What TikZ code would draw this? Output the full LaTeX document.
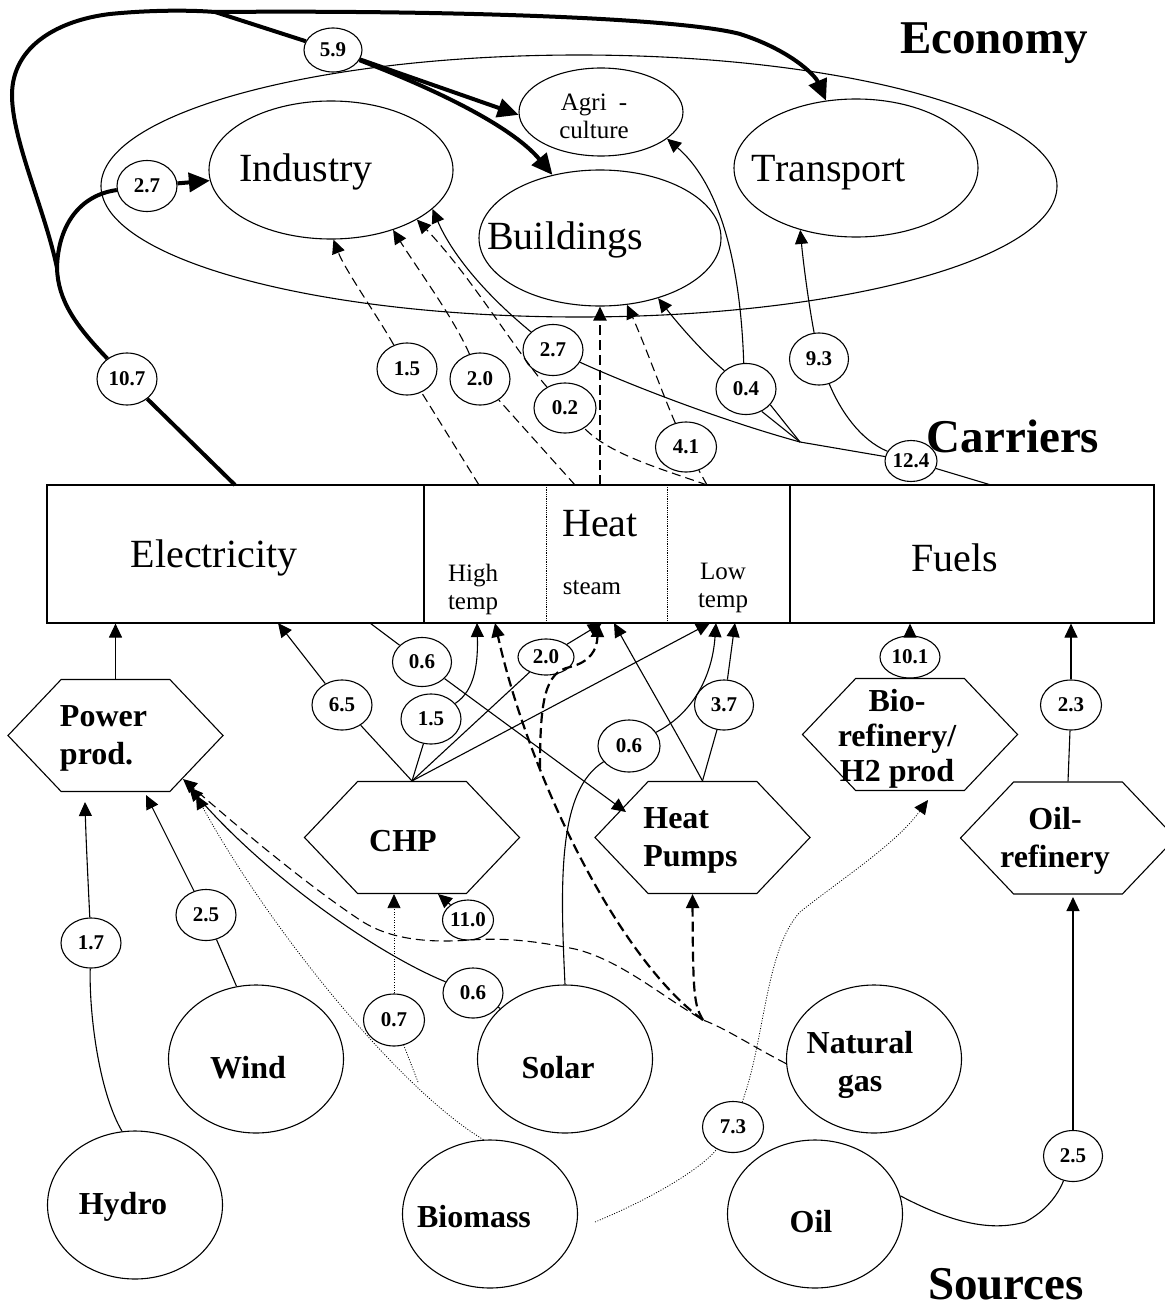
\documentclass[tikz,border=0pt]{standalone}
\usepackage{fontspec}
\setmainfont{Liberation Serif}
\usetikzlibrary{arrows.meta,shapes.geometric,shapes.symbols}
\begin{document}
\begin{tikzpicture}[x=1pt,y=-1pt,
  ln/.style={line width=1.1pt},
  thk/.style={line width=4pt},
  dsh/.style={line width=1.1pt, dash pattern=on 9pt off 5pt},
  tdsh/.style={line width=2.2pt, dash pattern=on 10pt off 5pt},
  dotl/.style={line width=0.8pt, dash pattern=on 1pt off 1.6pt},
  ar/.style={-{Triangle[length=14pt,width=13pt]}},
  tar/.style={-{Triangle[length=21pt,width=19pt]}},
  big/.style={font=\fontsize{40}{46}\selectfont},
  small/.style={font=\fontsize{25}{28}\selectfont, align=center},
  ttl/.style={font=\bfseries\fontsize{47}{52}\selectfont, inner sep=0pt},
  hexlbl/.style={font=\bfseries\fontsize{32}{38}\selectfont},
  ell/.style={ellipse, draw, line width=1.1pt, inner sep=0pt},
  src/.style={ell, minimum width=175pt, minimum height=148pt},
  hexa/.style={signal, signal to=west and east, signal pointer angle=93,
    draw, line width=1.1pt, inner sep=0pt, minimum width=215pt, minimum height=112pt},
  num/.style={ell, font=\bfseries\fontsize{21}{23}\selectfont,
    minimum width=60pt, minimum height=50pt},
  boxc/.style={draw, line width=1.1pt, inner sep=0pt, minimum height=138pt}
]
\useasboundingbox (0,0) rectangle (1164,1311);

% ---------- titles ----------
\node[ttl] (tEco) at (994,43) {Economy};
\node[ttl] (tCar) at (1013,436) {Carriers};
\node[ttl] (tSrc) at (1006,1284) {Sources};

% ---------- economy sectors ----------
\node[ell, minimum width=956pt, minimum height=262pt] (econ) at (579,186) {};
\node[ell, minimum width=244pt, minimum height=138pt,
  label={[big, xshift=-25pt, yshift=-2pt]center:Industry}] (ind) at (331,170) {};
\node[ell, minimum width=244pt, minimum height=138pt,
  label={[big, xshift=-27pt, yshift=-5pt]center:Transport}] (trans) at (856,168) {};
\node[ell, minimum width=242pt, minimum height=136pt,
  label={[big, xshift=-35pt, yshift=-2pt]center:Buildings}] (bld) at (600,238) {};
\node[ell, minimum width=164pt, minimum height=88pt,
  label={[small, xshift=-7pt, yshift=-4pt]center:Agri\hspace{12pt}-\\culture}] (agri) at (601,112) {};

% ---------- carriers ----------
\node[boxc, minimum width=377pt] (elec) at (235.5,554) {};
\node[boxc, minimum width=366pt] (heat) at (607,554) {};
\node[boxc, minimum width=364pt] (fuels) at (972,554) {};
\draw[line width=0.8pt, densely dotted] (546,485) -- (546,623);
\draw[line width=0.8pt, densely dotted] (667,485) -- (667,623);
\node[big] (tElec) at (214,558) {Electricity};
\node[big] (tHeat) at (600,524) {Heat};
\node[big] (tFuel) at (955,558) {Fuels};
\node[small] (tHigh) at (473,589) {High\\temp};
\node[small] (tSteam) at (592,588) {steam};
\node[small] (tLow) at (723,588) {Low\\temp};

% ---------- conversion ----------
\node[hexa, label={[hexlbl, align=left, xshift=-12pt, yshift=-3pt]center:Power\\prod.}] (pp) at (115.5,735.5) {};
\node[hexa, label={[hexlbl, xshift=-9pt, yshift=-4pt]center:CHP}] (chp) at (412,837.5) {};
\node[hexa, label={[hexlbl, align=left, xshift=-12pt, yshift=-3pt]center:Heat\\Pumps}] (hp) at (702.5,837.5) {};
\node[hexa, label={[hexlbl, align=center, xshift=-13pt, yshift=-4pt, font=\bfseries\fontsize{32}{35}\selectfont]center:Bio-\\refinery/\\H2 prod}] (bio) at (910,734.5) {};
\node[hexa, label={[hexlbl, align=center, xshift=-13pt, yshift=-3pt]center:Oil-\\refinery}] (oil) at (1068,838) {};

% ---------- sources ----------
\node[src, label={[hexlbl, xshift=-12pt, yshift=-2pt]center:Hydro}] (hydro) at (135,1205) {};
\node[src, label={[hexlbl, xshift=-8pt, yshift=-9pt]center:Wind}] (wind) at (256,1059) {};
\node[src, label={[hexlbl, xshift=-16pt, yshift=-3pt]center:Biomass}] (biomass) at (490,1214) {};
\node[src, label={[hexlbl, xshift=-7pt, yshift=-9pt]center:Solar}] (solar) at (565,1059) {};
\node[src, label={[hexlbl, align=center, xshift=-14pt, yshift=-6pt]center:Natural\\gas}] (ng) at (874,1059) {};
\node[src, label={[hexlbl, xshift=-4pt, yshift=-8pt]center:Oil}] (oilsrc) at (815,1214) {};

% ---------- flow values ----------
\node[num, minimum width=58pt, minimum height=44pt] (n59) at (333,50) {5.9};
\node[num, minimum height=51pt] (n27a) at (147,186) {2.7};
\node[num, minimum height=52pt] (n107) at (127,379) {10.7};
\node[num, minimum height=52pt] (n15a) at (407,369) {1.5};
\node[num, minimum height=52pt] (n20a) at (480,379) {2.0};
\node[num, minimum height=51pt] (n27b) at (553,350) {2.7};
\node[num, minimum width=62pt] (n02) at (565,408) {0.2};
\node[num, minimum width=61pt] (n41) at (686,447) {4.1};
\node[num, minimum height=51pt] (n04) at (746,389) {0.4};
\node[num, minimum width=59pt, minimum height=52pt] (n93) at (819,359) {9.3};
\node[num, minimum width=49pt, minimum height=41pt] (n124) at (911,461) {12.4};
\node[num, minimum width=59pt, minimum height=49pt] (n06a) at (422,662) {0.6};
\node[num] (n65) at (342,705) {6.5};
\node[num] (n15b) at (431,719) {1.5};
\node[num, minimum width=56pt, minimum height=36pt] (n20b) at (546,657) {2.0};
\node[num, minimum width=62pt, minimum height=52pt] (n06b) at (629,746) {0.6};
\node[num, minimum width=59pt] (n37) at (724,705) {3.7};
\node[num, minimum height=42pt] (n101) at (910,657) {10.1};
\node[num, minimum width=61pt] (n23) at (1071,705) {2.3};
\node[num] (n17) at (91,943) {1.7};
\node[num, minimum height=51pt] (n25w) at (206,915) {2.5};
\node[num, minimum width=61pt, minimum height=52pt] (n07) at (394,1020) {0.7};
\node[num] (n06c) at (473,993) {0.6};
\node[num, minimum width=51pt, minimum height=40pt] (n110) at (468,920) {11.0};
\node[num, minimum width=61pt, minimum height=51pt] (n73) at (733,1127) {7.3};
\node[num, minimum width=59pt, minimum height=51pt] (n25o) at (1073,1156) {2.5};

% ---------- junctions and free ends ----------
\coordinate (s1) at (57,268);
\coordinate (s2) at (215,12);
\coordinate (eT) at (235,485);
\coordinate (hA) at (479,485);
\coordinate (hB) at (575,485);
\coordinate (hC) at (600,485);
\coordinate (hD) at (707,485);
\coordinate (fA) at (991,485);
\coordinate (K) at (800,442);
\coordinate (eB1) at (278,623);
\coordinate (eB2) at (370,623);
\coordinate (hT1) at (477,623);
\coordinate (hT2) at (495,623);
\coordinate (hS1) at (598,623);
\coordinate (hS2) at (602,623);
\coordinate (hS3) at (614,623);
\coordinate (hL1) at (710,623);
\coordinate (hL2) at (716,623);
\coordinate (hL3) at (735,623);
\coordinate (pA) at (85,802);
\coordinate (pB) at (146,795);
\coordinate (pC) at (183,779);
\coordinate (pD) at (189,787);
\coordinate (pE) at (196,795);
\coordinate (J) at (703,1020);
\coordinate (M) at (540,768);
\coordinate (c07) at (418,1082);
\coordinate (c73) at (595,1222);
\coordinate (tBio) at (928,800);
\coordinate (t110) at (438,894);
\coordinate (tHP) at (626,812);
\coordinate (tOil) at (1073,897);

% ---------- electricity to the economy (heavy lines) ----------
\draw[thk] (eT) -- (n107);
\draw[thk] (n107) .. controls (75,325) and (58,300) .. (s1);
\draw[thk] (s1) .. controls (58,225) and (80,195) .. (n27a);
\draw[thk,tar] (n27a) -- (ind.185);
\draw[thk] (s1) .. controls (45,210) and (12,140) .. (12,95)
  .. controls (12,45) and (60,20) .. (110,14)
  .. controls (150,10) and (190,10) .. (s2);
\draw[thk,tar] (s2) .. controls (450,10) and (680,18) .. (740,34)
  .. controls (790,50) and (815,75) .. (trans.114);
\draw[thk] (s2) -- (n59);
\draw[thk,tar] (n59) -- (agri.182);
\draw[thk,tar] (n59) .. controls (450,95) and (515,130) .. (bld.127);

% ---------- heat to the economy ----------
\draw[dsh] (hA) -- (n15a);
\draw[dsh,ar] (n15a) .. controls (380,320) and (345,270) .. (ind.272);
\draw[dsh] (hB) -- (n20a);
\draw[dsh,ar] (n20a) .. controls (455,320) and (415,265) .. (ind.-44);
\draw[dsh] (hD) .. controls (665,470) and (610,455) .. (n02);
\draw[dsh,ar] (n02) .. controls (515,350) and (470,275) .. (ind.-30);
\draw[tdsh,ar] (hC) -- (bld.south);
\draw[dsh] (hD) -- (n41);
\draw[dsh,ar] (n41) .. controls (665,400) and (645,345) .. (bld.-68);

% ---------- fuels to the economy ----------
\draw[ln] (fA) -- (n124);
\draw[ln] (n124) -- (K);
\draw[ln] (K) .. controls (720,420) and (630,385) .. (n27b);
\draw[ln,ar] (n27b) .. controls (480,290) and (450,250) .. (ind.-21);
\draw[ln] (K) -- (n04.-55);
\draw[ln] (K) -- (n04.-33);
\draw[ln,ar] (n04) .. controls (700,350) and (675,320) .. (bld.-46);
\draw[ln,ar] (n04.95) .. controls (740,250) and (715,180) .. (agri.-22);
\draw[ln] (n124) .. controls (860,440) and (840,410) .. (n93);
\draw[ln,ar] (n93) .. controls (808,300) and (803,260) .. (trans.-132);

% ---------- conversion to carriers ----------
\draw[ln,ar] (pp.north) -- (pp.north |- elec.south);
\draw[ln] (chp.north) -- (n65);
\draw[ln,ar] (n65) -- (eB1);
\draw[ln] (chp.north) -- (n15b);
\draw[ln,ar] (n15b) .. controls (476,690) and (478,660) .. (hT1);
\draw[ln] (chp.north) -- (n20b);
\draw[ln,ar] (n20b) -- (hS2);
\draw[ln,ar] (chp.north) -- (hL1);
\draw[ln] (eB2) -- (n06a);
\draw[ln,ar] (n06a) -- (tHP);
\draw[ln,ar] (hp.north) .. controls (675,730) and (640,670) .. (hS3);
\draw[ln] (hp.north) -- (n37);
\draw[ln,ar] (n37) -- (hL3);
\draw[ln,ar] (n101) -- (n101 |- fuels.south);
\draw[ln] (oil.north) -- (n23);
\draw[ln,ar] (n23) -- (n23 |- fuels.south);

% ---------- sources to conversion ----------
\draw[ln] (hydro.100) .. controls (98,1090) and (89,1010) .. (n17);
\draw[ln,ar] (n17) .. controls (88,880) and (86,840) .. (pA);
\draw[ln] (wind.105) -- (n25w);
\draw[ln,ar] (n25w) -- (pB);
\draw[ln] (solar.142) -- (n06c);
\draw[ln,ar] (n06c) .. controls (380,955) and (270,880) .. (pD);
\draw[ln] (solar.north) .. controls (560,880) and (558,790) .. (n06b);
\draw[ln,ar] (n06b) .. controls (690,715) and (712,680) .. (hL2);
\draw[dotl,ar] (biomass.95) .. controls (400,1090) and (270,930) .. (pE);
\draw[dotl] (c07) -- (n07);
\draw[dotl,ar] (n07) -- (n07 |- chp.south);
\draw[dotl] (c73) .. controls (660,1195) and (705,1165) .. (n73);
\draw[dotl,ar] (n73) .. controls (765,1040) and (765,950) .. (800,912)
  .. controls (840,880) and (895,845) .. (tBio);
\draw[dsh,ar] (ng.183) .. controls (750,1045) and (725,1028) .. (J)
  .. controls (660,995) and (620,960) .. (575,949)
  .. controls (545,943) and (510,937) .. (470,940)
  .. controls (430,943) and (390,940) .. (360,920)
  .. controls (300,880) and (230,820) .. (pC);
\draw[dsh,ar] (n110) -- (t110);
\draw[tdsh,ar] (J) .. controls (694,1005) and (693,995) .. ([xshift=-10pt]hp.south);
\draw[tdsh,ar] (J) .. controls (620,960) and (530,780) .. (hT2);
\draw[tdsh,ar] (M) .. controls (540,700) and (545,672) .. (570,667)
  .. controls (590,662) and (597,650) .. (hS1);
\draw[ln] (oilsrc.12) .. controls (950,1222) and (990,1232) .. (1025,1222)
  .. controls (1045,1212) and (1058,1195) .. (n25o);
\draw[ln,ar] (n25o) -- (tOil);
\end{tikzpicture}
\end{document}
